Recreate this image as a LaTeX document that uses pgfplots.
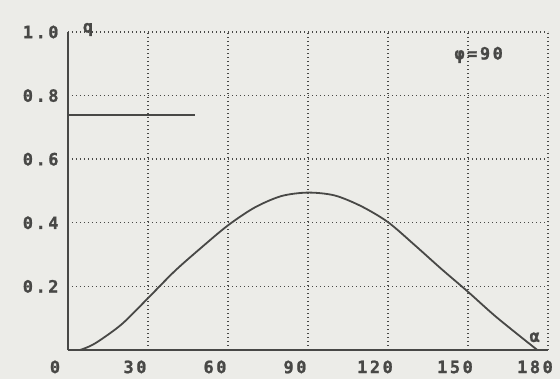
\documentclass[border=0pt]{standalone}
\usepackage{pgfplots}
\pgfplotsset{compat=1.18}
\usepackage{fontspec}
\newfontfamily\dm[LetterSpace=15, FakeBold=1.2]{DejaVu Sans Mono}
\definecolor{bg}{RGB}{236,236,232}
\definecolor{ink}{RGB}{72,72,70}
\newcommand{\lf}{\dm\bfseries\fontsize{17}{17}\selectfont}
\begin{document}
\begin{tikzpicture}
\path[use as bounding box, fill=bg] (-68bp,-29bp) rectangle (492bp,350bp);
\begin{axis}[
  scale only axis, width=480bp, height=318bp,
  anchor=south west, at={(0,0)},
  xmin=0, xmax=180, ymin=0, ymax=1,
  clip=false,
  axis x line*=bottom, axis y line*=left,
  axis line style={-, ink, line width=2bp},
  xtick={0,30,60,90,120,150,180},
  ytick={0.2,0.4,0.6,0.8,1.0},
  major tick length=0pt,
  grid=major,
  grid style={ink, line width=1.4bp, dash pattern=on 1.4bp off 2.6bp},
  /pgf/number format/assume math mode=true,
  ticklabel style={font=\lf, text=ink},
  xticklabel style={xshift=-13bp, yshift=-7bp},
  yticklabel style={xshift=-6bp, /pgf/number format/.cd, fixed, fixed zerofill, precision=1},
]
\addplot[ink, line width=1.8bp, smooth] coordinates {
 (4.5,0.0) (10,0.02) (20,0.08) (30,0.163) (40,0.248) (50,0.322)
 (60,0.392) (70,0.448) (80,0.484) (90,0.495) (100,0.486) (110,0.452)
 (120,0.402) (130,0.33) (140,0.255) (150,0.183) (160,0.108) (170,0.04) (176,0.0)
};
\addplot[ink, line width=1.5bp] coordinates {(0,0.739) (47.6,0.739)};
\node[font=\lf, text=ink] at (axis cs:7.5,1.008) {q};
\node[font=\lf, text=ink] at (axis cs:154,0.928) {φ=90};
\node[font=\lf, text=ink] at (axis cs:175,0.04) {α};
\end{axis}
\end{tikzpicture}
\end{document}
